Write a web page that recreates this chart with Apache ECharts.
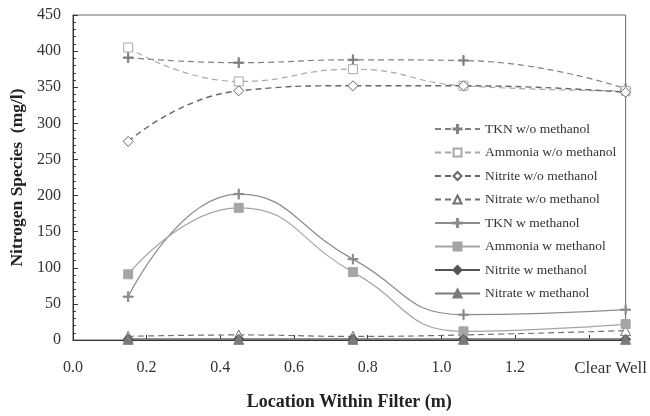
<!DOCTYPE html>
<html>
<head>
<meta charset="utf-8">
<script src="https://cdn.jsdelivr.net/npm/echarts@6/dist/echarts.min.js"></script>
<style>
  html, body { margin: 0; padding: 0; background: #fff; }
  #chart { width: 650px; height: 416px; }
</style>
</head>
<body>
<div id="chart"></div>
<script>
// sampling locations (m); the last one is the clear well
const locations = [0.15, 0.45, 0.76, 1.06, 1.5];
const clearWellAt = 1.5;

const tknWo = [391, 384, 388, 387, 348];
const ammoniaWo = [405, 358, 375, 352, 345];
const nitriteWo = [275, 345, 352, 352, 343];
const nitrateWo = [5, 7, 5, 7, 13];
const tknW = [60, 202, 112, 35, 42];
const ammoniaW = [91, 183, 94, 12, 22];
const nitriteW = [1, 1, 1, 1, 1];
const nitrateW = [1, 1, 1, 1, 1];

const plusPath = 'path://M4.4,0H5.6V10H4.4Z M0,4.4H10V5.6H0Z';

function pairs(vals) {
  return locations.map((x, i) => [x, vals[i]]);
}

function makeSeries(name, vals, color, dashed, symbol, fill, width) {
  return {
    name: name,
    type: 'line',
    data: pairs(vals),
    smooth: 0.5,
    symbol: symbol,
    symbolSize: symbol === 'rect' ? 9 : 10,
    showAllSymbol: true,
    lineStyle: { color: color, width: width, type: dashed ? [6, 4] : 'solid' },
    itemStyle: { color: fill, borderColor: color, borderWidth: 1 },
    emphasis: { disabled: true }
  };
}

const chart = echarts.init(document.getElementById('chart'));
const option = {
  animation: false,
  textStyle: { fontFamily: 'Liberation Serif' },
  grid: {
    left: 72, right: 22, top: 15, bottom: 71,
    show: true, borderColor: '#666', borderWidth: 1
  },
  legend: {
    orient: 'vertical',
    left: 429,
    top: 117,
    itemWidth: 45,
    itemHeight: 10,
    itemGap: 9.5,
    textStyle: { fontFamily: 'Liberation Serif', fontSize: 13.5, color: '#333' },
    data: ['TKN w/o methanol', 'Ammonia w/o methanol', 'Nitrite w/o methanol', 'Nitrate w/o methanol',
      'TKN w methanol', 'Ammonia w methanol', 'Nitrite w methanol', 'Nitrate w methanol']
  },
  xAxis: {
    type: 'value',
    min: 0,
    max: clearWellAt,
    interval: 0.2,
    name: 'Location Within Filter (m)',
    nameLocation: 'middle',
    nameGap: 53,
    nameTextStyle: { fontFamily: 'Liberation Serif', fontSize: 18, fontWeight: 'bold', color: '#222' },
    axisLine: { lineStyle: { color: '#333' } },
    axisTick: { inside: true, length: 5, lineStyle: { color: '#333' } },
    splitLine: { show: false },
    axisLabel: {
      interval: 0,
      margin: 20,
      fontFamily: 'Liberation Serif',
      fontSize: 16,
      color: '#333',
      formatter: function (v) {
        if (Math.abs(v - clearWellAt) < 1e-6) return '{cw|Clear Well}';
        if (Math.abs(v - 1.4) < 1e-6) return '';
        return v.toFixed(1);
      },
      rich: { cw: { fontFamily: 'Liberation Serif', fontSize: 17, color: '#333', padding: [0, 30, 0, 0] } }
    }
  },
  yAxis: {
    type: 'value',
    min: 0,
    max: 450,
    interval: 50,
    name: 'Nitrogen Species  (mg/l)',
    nameLocation: 'middle',
    nameGap: 45,
    nameTextStyle: { fontFamily: 'Liberation Serif', fontSize: 17.5, fontWeight: 'bold', color: '#222' },
    axisLine: { show: true, lineStyle: { color: '#333' } },
    axisTick: { show: true, inside: true, length: 5, lineStyle: { color: '#333' } },
    minorTick: { show: true, splitNumber: 5, length: 3, lineStyle: { color: '#333' } },
    splitLine: { show: false },
    axisLabel: { margin: 12, fontFamily: 'Liberation Serif', fontSize: 16, color: '#333' }
  },
  series: [
    makeSeries('TKN w/o methanol', tknWo, '#808080', true, plusPath, '#808080', 1.2),
    makeSeries('Ammonia w/o methanol', ammoniaWo, '#a8a8a8', true, 'rect', '#ffffff', 1.2),
    makeSeries('Nitrite w/o methanol', nitriteWo, '#666666', true, 'diamond', '#ffffff', 1.4),
    makeSeries('Nitrate w/o methanol', nitrateWo, '#707070', true, 'triangle', '#ffffff', 1.2),
    makeSeries('TKN w methanol', tknW, '#8c8c8c', false, plusPath, '#8c8c8c', 1.2),
    makeSeries('Ammonia w methanol', ammoniaW, '#a5a5a5', false, 'rect', '#a5a5a5', 1.2),
    makeSeries('Nitrite w methanol', nitriteW, '#555555', false, 'diamond', '#555555', 1.5),
    makeSeries('Nitrate w methanol', nitrateW, '#7a7a7a', false, 'triangle', '#7a7a7a', 1.5)
  ]
};
chart.setOption(option);
</script>
</body>
</html>
